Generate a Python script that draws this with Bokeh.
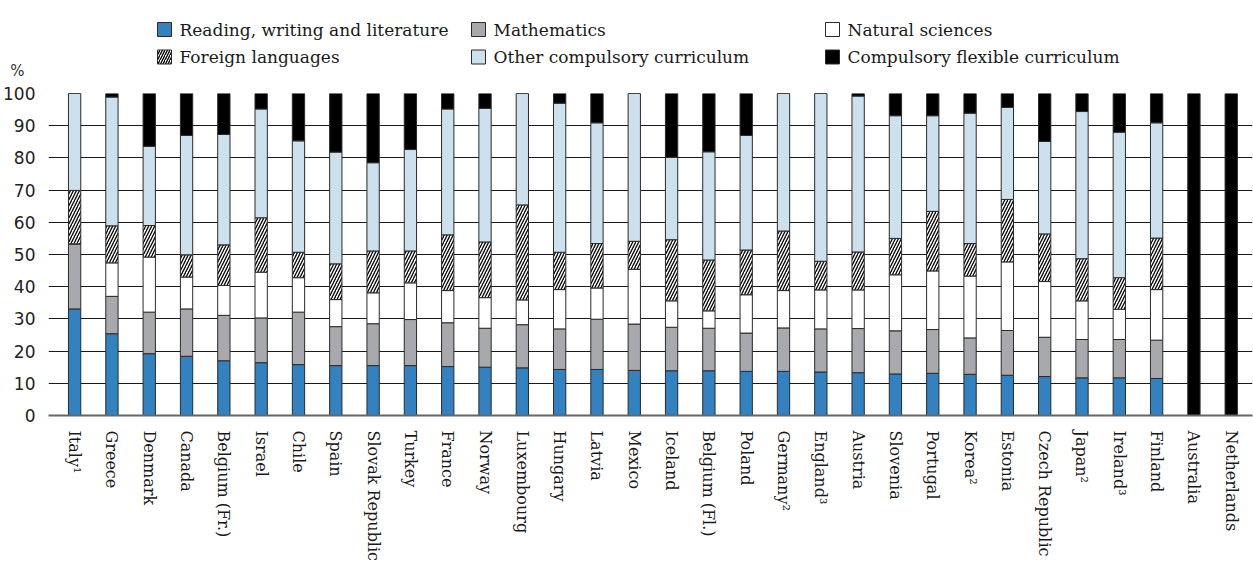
import numpy as np
from bokeh.plotting import figure
from bokeh.models import Range1d, FixedTicker, Label
from bokeh.layouts import column
from bokeh.embed import file_html
from bokeh.resources import INLINE

countries = ["Italy¹", "Greece", "Denmark", "Canada", "Belgium (Fr.)", "Israel", "Chile", "Spain",
             "Slovak Republic", "Turkey", "France", "Norway", "Luxembourg", "Hungary", "Latvia", "Mexico",
             "Iceland", "Belgium (Fl.)", "Poland", "Germany²", "England³", "Austria", "Slovenia", "Portugal",
             "Korea²", "Estonia", "Czech Republic", "Japan²", "Ireland³", "Finland", "Australia", "Netherlands"]

reading = [33.1, 25.4, 19.2, 18.4, 17.0, 16.4, 15.8, 15.5, 15.5, 15.5, 15.2, 15.0, 14.8, 14.3, 14.3, 14.0,
           13.9, 13.9, 13.7, 13.7, 13.5, 13.3, 12.9, 13.1, 12.8, 12.5, 12.1, 11.7, 11.7, 11.5, 0, 0]
mathematics = [20.2, 11.6, 12.9, 14.7, 14.1, 13.9, 16.3, 12.1, 13.0, 14.3, 13.6, 12.1, 13.4, 12.6, 15.6, 14.4,
               13.5, 13.2, 11.9, 13.5, 13.4, 13.7, 13.4, 13.6, 11.3, 13.9, 12.2, 11.9, 11.9, 11.9, 0, 0]
natural_sciences = [0, 10.4, 17.1, 9.9, 9.3, 14.2, 10.7, 8.4, 9.6, 11.4, 10.0, 9.5, 7.7, 12.2, 9.7, 17.0,
                    8.2, 5.4, 11.9, 11.6, 12.1, 12.0, 17.4, 18.2, 19.2, 21.3, 17.3, 12.0, 9.4, 15.7, 0, 0]
foreign_languages = [16.6, 11.5, 9.8, 6.9, 12.6, 16.9, 7.9, 11.1, 13.0, 9.9, 17.3, 17.3, 29.5, 11.6, 13.8, 8.7,
                     19.0, 15.8, 13.9, 18.5, 8.9, 11.8, 11.3, 18.5, 10.1, 19.4, 14.8, 13.1, 9.8, 16.0, 0, 0]
other_compulsory = [30.1, 40.0, 24.6, 37.1, 34.3, 33.8, 34.6, 34.7, 27.4, 31.5, 39.1, 41.5, 34.6, 46.3, 37.5, 45.9,
                    25.6, 33.6, 35.6, 42.7, 52.1, 48.4, 38.1, 29.7, 40.5, 28.6, 28.7, 45.7, 45.2, 35.8, 0, 0]
flexible = [0, 1.1, 16.4, 13.0, 12.7, 4.8, 14.7, 18.2, 21.5, 17.4, 4.8, 4.6, 0, 3.0, 9.1, 0,
            19.8, 18.1, 13.0, 0, 0, 0.8, 6.9, 6.9, 6.1, 4.3, 14.9, 5.6, 12.0, 9.1, 100, 100]

series_keys = ["reading", "mathematics", "natural_sciences", "foreign_languages", "other_compulsory", "flexible"]
series_labels = ["Reading, writing and literature", "Mathematics", "Natural sciences",
                 "Foreign languages", "Other compulsory curriculum", "Compulsory flexible curriculum"]
y_ticks = [0, 10, 20, 30, 40, 50, 60, 70, 80, 90, 100]

colors = ["#3282c1", "#a7a9ac", "#ffffff", "#ffffff", "#cce0ee", "#000000"]
hatches = [" ", " ", " ", "/", " ", " "]

W = 1253
LEG_H = 80
FRAME_L, FRAME_R = 48, 1252

# ---------- legend strip (data units = page pixels) ----------
lf = figure(width=W, height=LEG_H, output_backend="svg", toolbar_location=None,
            x_range=Range1d(FRAME_L, FRAME_R), y_range=Range1d(LEG_H, 0),
            min_border_left=FRAME_L, min_border_right=W - FRAME_R, min_border_top=0, min_border_bottom=0)
lf.xaxis.visible = False
lf.grid.visible = False
lf.outline_line_color = None
# the "%" unit sits on the strip's own left axis
lf.yaxis.ticker = FixedTicker(ticks=[70])
lf.yaxis.major_label_overrides = {70: "%"}
lf.yaxis.major_label_text_font = "DejaVu Sans"
lf.yaxis.major_label_text_font_size = "15px"
lf.yaxis.major_label_text_color = "#333333"
lf.yaxis.major_label_standoff = 18
lf.yaxis.axis_line_color = None
lf.yaxis.major_tick_line_color = None
lf.yaxis.minor_tick_line_color = None

col_left = [157, 471, 825]
row_y = [29, 56.5]
sw = 14
leg_x, leg_y, leg_col, leg_hatch = [], [], [], []
for i in range(6):
    c, r = i % 3, i // 3
    leg_x.append(col_left[c])
    leg_y.append(row_y[r])
    leg_col.append(colors[i])
    leg_hatch.append(hatches[i])
lf.rect(x=[x + sw / 2 for x in leg_x], y=leg_y, width=sw, height=sw,
        fill_color=leg_col, line_color="#2a2a2a", line_width=1,
        hatch_pattern=leg_hatch, hatch_color="black", hatch_scale=5, hatch_weight=1.3)
for i in range(6):
    lf.add_layout(Label(x=leg_x[i] + sw + 8, y=leg_y[i], text=series_labels[i],
                        text_font="DejaVu Serif", text_font_size="17px", text_color="#1a1a1a",
                        text_align="left", text_baseline="middle"))

# ---------- main chart ----------
data = dict(x=list(range(len(countries))), reading=reading, mathematics=mathematics,
            natural_sciences=natural_sciences, foreign_languages=foreign_languages,
            other_compulsory=other_compulsory, flexible=flexible)

p = figure(width=W, height=564 - LEG_H, output_backend="svg", toolbar_location=None,
           x_range=Range1d(-0.7, 31.57), y_range=Range1d(0, 100),
           min_border_left=FRAME_L, min_border_right=W - FRAME_R, min_border_top=93 - LEG_H,
           min_border_bottom=149)
p.outline_line_color = None

p.vbar_stack(series_keys, x="x", width=0.33, source=data,
             fill_color=colors, line_color="#2a2a2a", line_width=1,
             hatch_pattern=hatches, hatch_color="black", hatch_scale=6, hatch_weight=1.3)

p.xaxis.ticker = FixedTicker(ticks=list(range(len(countries))))
p.xaxis.major_label_overrides = {i: c for i, c in enumerate(countries)}
p.xaxis.major_label_orientation = "vertical"
p.xaxis.major_label_text_font = "DejaVu Serif"
p.xaxis.major_label_text_font_size = "16px"
p.xaxis.major_label_text_color = "#1a1a1a"
p.xaxis.major_tick_line_color = None
p.xaxis.minor_tick_line_color = None
p.xaxis.axis_line_color = "#666666"
p.xaxis.axis_line_width = 2
p.xaxis.major_label_standoff = 9

p.yaxis.ticker = FixedTicker(ticks=y_ticks)
p.yaxis.major_label_text_font = "DejaVu Sans"
p.yaxis.major_label_text_font_size = "17px"
p.yaxis.major_label_text_color = "#222222"
p.yaxis.major_tick_line_color = None
p.yaxis.minor_tick_line_color = None
p.yaxis.axis_line_color = None
p.yaxis.major_label_standoff = 7

p.xgrid.grid_line_color = None
p.ygrid.grid_line_color = "#1a1a1a"
p.ygrid.grid_line_width = 1
p.ygrid.level = "underlay"

layout = column(lf, p, spacing=0)
open("out.html", "w").write(file_html(layout, INLINE))
